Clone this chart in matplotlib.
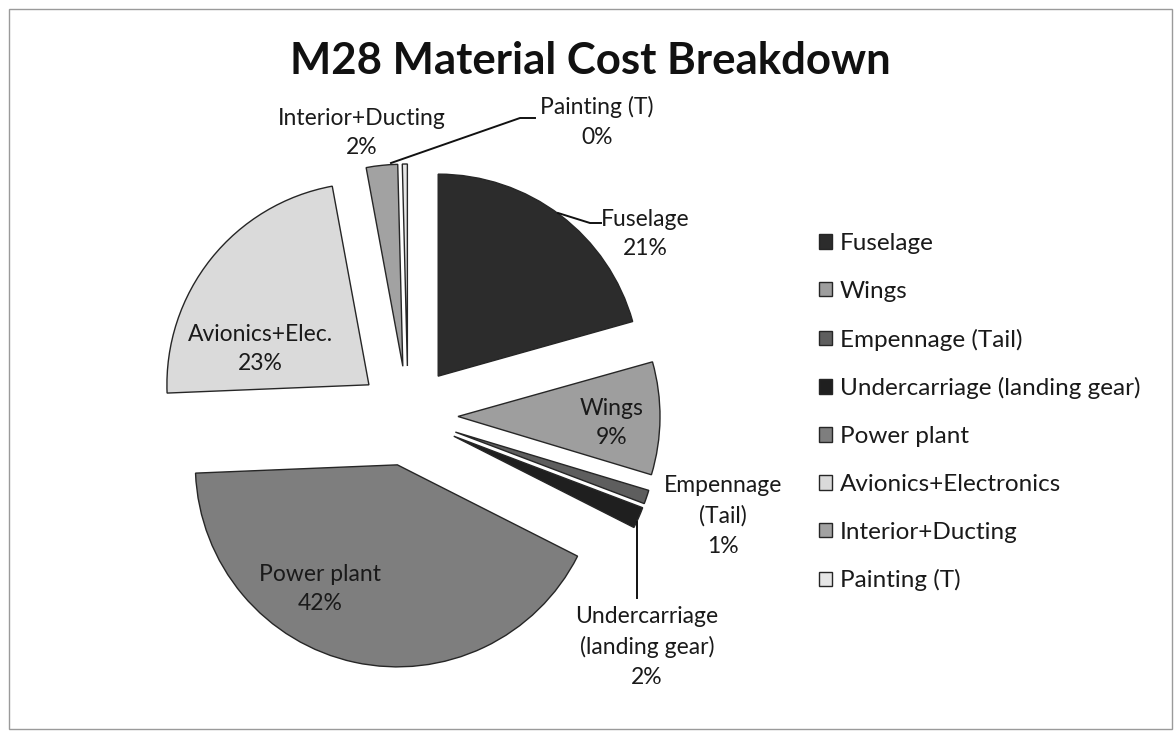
import matplotlib
matplotlib.use("Agg")
import matplotlib.pyplot as plt
from matplotlib.patches import Rectangle

# ---- data ----
categories = ["Fuselage", "Wings", "Empennage (Tail)", "Undercarriage (landing gear)",
              "Power plant", "Avionics+Electronics", "Interior+Ducting", "Painting (T)"]
values = [20.6, 9.0, 1.1, 1.7, 41.8, 22.7, 2.5, 0.4]
slice_labels = ["Fuselage\n21%", "Wings\n9%", "Empennage\n(Tail)\n1%",
                "Undercarriage\n(landing gear)\n2%", "Power plant\n42%",
                "Avionics+Elec.\n23%", "Interior+Ducting\n2%", "Painting (T)\n0%"]
colors = ["#2c2c2c", "#9e9e9e", "#5e5e5e", "#1f1f1f", "#7e7e7e", "#dadada", "#a2a2a2", "#e6e6e6"]
title = "M28 Material Cost Breakdown"

W, H = 1175, 736
FONT = "Lato"

fig = plt.figure(figsize=(W / 100, H / 100), dpi=100)
ax = fig.add_axes([0, 0, 1, 1])

def Y(y):
    return H - y

wedges, _ = ax.pie(values, colors=colors, startangle=90, counterclock=False,
                   explode=[50] * len(values), radius=202, center=(408, Y(416)),
                   wedgeprops=dict(edgecolor="#262626", linewidth=1.0))
ax.set_xlim(0, W)
ax.set_ylim(0, H)
ax.set_aspect("equal")
ax.axis("off")

# border
ax.add_patch(Rectangle((9, Y(729)), 1163, 720, fill=False, edgecolor="#9a9a9a", linewidth=1.0))

# title
ax.text(590, Y(61), title, ha="center", va="center", fontsize=31.5, fontweight="bold",
        family=FONT, color="#111111")

# slice labels (x, y in image pixels of the block centre)
label_pos = [(645, 234), (612, 423), (723, 516), (647, 647), (320, 589),
             (260, 349), (362, 133), (597, 122)]
for txt, (lx, ly) in zip(slice_labels, label_pos):
    ax.text(lx, Y(ly), txt, ha="center", va="center", multialignment="center",
            fontsize=16.5, family=FONT, color="#1a1a1a", linespacing=1.52)

# leader lines
ax.plot([391, 520, 535], [Y(163), Y(118), Y(118)], color="#111111", lw=1.4)
ax.plot([558, 590, 601], [Y(213), Y(223), Y(223)], color="#111111", lw=1.4)
ax.plot([637, 637], [Y(522), Y(598)], color="#111111", lw=1.4)

# legend
leg = ax.legend(wedges, categories, loc="upper left", bbox_to_anchor=(819 / W, Y(233) / H),
                frameon=False, prop=dict(family=FONT, size=17.5), handlelength=0.55,
                handleheight=0.55, handletextpad=0.3, labelspacing=1.1, borderpad=0,
                borderaxespad=0)
for t in leg.get_texts():
    t.set_color("#1a1a1a")

fig.savefig("out.png", dpi=100, facecolor="white")
